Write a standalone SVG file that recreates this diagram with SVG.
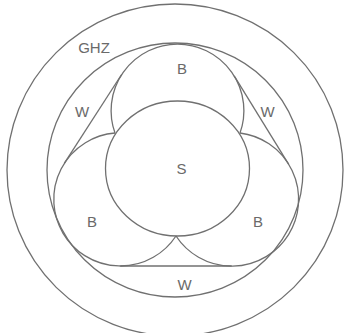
<svg xmlns="http://www.w3.org/2000/svg" width="348" height="333" viewBox="0 0 348 333">
  <style>
    .ln { fill: none; stroke: #707070; stroke-width: 1.3; }
    .lb { font-family: "Liberation Sans", Arial, sans-serif; font-size: 15px; fill: #6a6a6a; text-anchor: middle; }
  </style>
  <rect width="348" height="333" fill="#ffffff"/>
  <g id="ghz">
    <ellipse class="ln" cx="175" cy="170" rx="168" ry="166"/>
    <text class="lb" x="94" y="53">GHZ</text>
  </g>
  <g id="w">
    <ellipse class="ln" cx="175" cy="170" rx="128" ry="127"/>
    <line class="ln" x1="64.3" y1="163.4" x2="121.6" y2="74.5"/>
    <line class="ln" x1="234.2" y1="75.8" x2="288.7" y2="164.4"/>
    <line class="ln" x1="120.3" y1="266" x2="231.7" y2="266"/>
    <text class="lb" x="82" y="117">W</text>
    <text class="lb" x="267.5" y="117">W</text>
    <text class="lb" x="184.5" y="290">W</text>
  </g>
  <g id="b-top">
    <path class="ln" d="M 115 133 A 66.4 66.4 0 1 1 240 133"/>
    <text class="lb" x="182" y="74">B</text>
  </g>
  <g id="b-left">
    <path class="ln" d="M 115 133 A 66.6 66.6 0 1 0 176 236"/>
    <text class="lb" x="92" y="227">B</text>
  </g>
  <g id="b-right">
    <path class="ln" d="M 176 236 A 66.8 66.8 0 1 0 240 133"/>
    <text class="lb" x="258" y="227">B</text>
  </g>
  <g id="s">
    <ellipse class="ln" cx="177.5" cy="168.5" rx="72" ry="67.5"/>
    <text class="lb" x="181.5" y="174">S</text>
  </g>
  <g id="connectors"/>
</svg>
